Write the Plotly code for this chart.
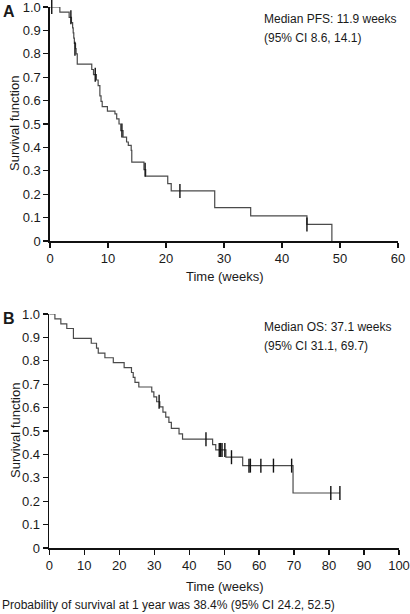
import plotly.graph_objects as go

W, H = 410, 614

# ---------------- Panel A: progression-free survival ----------------
pfs_time = [0, 1.7, 3.3, 3.7, 3.9, 4.0, 4.1, 4.2, 4.4, 4.5, 4.7, 7.2, 7.5, 8.0, 8.3,
            8.6, 8.8, 9.0, 9.9, 11.2, 11.5, 11.9, 12.2, 12.6, 13.2, 13.5, 14.0, 14.1,
            16.2, 16.5, 20.3, 20.9, 28.4, 34.6, 44.3, 48.6]
pfs_surv = [1.0, 0.978, 0.956, 0.933, 0.911, 0.889, 0.867, 0.844, 0.822, 0.80, 0.756,
            0.733, 0.711, 0.688, 0.664, 0.62, 0.597, 0.574, 0.555, 0.543, 0.522, 0.50,
            0.472, 0.444, 0.423, 0.409, 0.387, 0.337, 0.305, 0.277, 0.245, 0.214,
            0.143, 0.107, 0.071, 0.0]
pfs_cens_time = [0.3, 3.6, 4.3, 7.8, 12.4, 16.4, 22.4, 44.3]
pfs_cens_surv = [1.0, 0.956, 0.822, 0.711, 0.472, 0.305, 0.214, 0.071]

# ---------------- Panel B: overall survival ----------------
os_time = [0, 1.6, 3.3, 5.0, 6.9, 12.0, 13.5, 14.0, 15.9, 18.3, 21.4, 23.5, 24.0, 24.5,
           25.6, 29.3, 29.9, 30.7, 31.6, 32.5, 33.3, 34.2, 34.9, 37.1, 38.1, 46.7, 47.6,
           50.5, 55.3, 69.7, 83.1]
os_surv = [1.0, 0.979, 0.958, 0.938, 0.896, 0.875, 0.854, 0.833, 0.813, 0.792, 0.771,
           0.75, 0.729, 0.708, 0.688, 0.667, 0.646, 0.625, 0.603, 0.581, 0.559, 0.537,
           0.511, 0.488, 0.465, 0.442, 0.419, 0.388, 0.352, 0.235, 0.235]
os_cens_time = [31.4, 44.8, 48.6, 49.0, 49.4, 50.2, 52.1, 57.1, 57.5, 60.5, 64.1, 69.3,
                80.5, 83.1]
os_cens_surv = [0.625, 0.465, 0.419, 0.419, 0.419, 0.419, 0.388, 0.352, 0.352, 0.352,
                0.352, 0.352, 0.235, 0.235]

y_ticks = [0, 0.1, 0.2, 0.3, 0.4, 0.5, 0.6, 0.7, 0.8, 0.9, 1.0]
y_ticktext = ["0", "0.1", "0.2", "0.3", "0.4", "0.5", "0.6", "0.7", "0.8", "0.9", "1.0"]
xa_ticks = [0, 10, 20, 30, 40, 50, 60]
xb_ticks = [0, 10, 20, 30, 40, 50, 60, 70, 80, 90, 100]


def px(x):
    return x / W


def py(y):
    return 1 - y / H


FONT = "Liberation Sans, Arial, sans-serif"
TXT = "#1a1a1a"
CURVE = "#4a4a4a"

fig = go.Figure()

fig.add_trace(go.Scatter(x=pfs_time, y=pfs_surv, mode="lines",
                         line=dict(shape="hv", color=CURVE, width=1.2),
                         xaxis="x", yaxis="y", cliponaxis=False, showlegend=False))
fig.add_trace(go.Scatter(x=pfs_cens_time, y=pfs_cens_surv, mode="markers",
                         marker=dict(symbol="line-ns", size=10,
                                     line=dict(color="#111", width=1.4)),
                         xaxis="x", yaxis="y", cliponaxis=False, showlegend=False))
fig.add_trace(go.Scatter(x=os_time, y=os_surv, mode="lines",
                         line=dict(shape="hv", color=CURVE, width=1.2),
                         xaxis="x2", yaxis="y2", cliponaxis=False, showlegend=False))
fig.add_trace(go.Scatter(x=os_cens_time, y=os_cens_surv, mode="markers",
                         marker=dict(symbol="line-ns", size=10,
                                     line=dict(color="#111", width=1.4)),
                         xaxis="x2", yaxis="y2", cliponaxis=False, showlegend=False))

axis_common = dict(showline=True, linecolor="#111", linewidth=1.6, ticks="outside",
                   ticklen=5, tickwidth=1.3, tickcolor="#111", showgrid=False,
                   zeroline=False, tickfont=dict(family=FONT, size=13, color=TXT),
                   fixedrange=True, automargin=False, ticklabeloverflow="allow")

fig.update_layout(
    width=W, height=H, autosize=False,
    margin=dict(l=0, r=0, t=0, b=0, pad=0),
    paper_bgcolor="white", plot_bgcolor="white",
    font=dict(family=FONT, size=12, color=TXT),
    hovermode=False,
    xaxis=dict(domain=[px(50), px(398)], range=[0, 60], tickvals=xa_ticks,
               anchor="y", **axis_common),
    yaxis=dict(domain=[py(241), py(7)], range=[0, 1], tickvals=y_ticks,
               ticktext=y_ticktext, anchor="x", **axis_common),
    xaxis2=dict(domain=[px(49.3), px(399)], range=[0, 100], tickvals=xb_ticks,
                anchor="y2", **axis_common),
    yaxis2=dict(domain=[py(548), py(314)], range=[0, 1], tickvals=y_ticks,
                ticktext=y_ticktext, anchor="x2", **axis_common),
)

ann = []


def add_text(text, x, y, xanchor="left", yanchor="middle", size=12, angle=0, bold=False):
    ann.append(dict(text=("<b>%s</b>" % text) if bold else text,
                    x=px(x), y=py(y), xref="paper", yref="paper",
                    xanchor=xanchor, yanchor=yanchor, showarrow=False,
                    textangle=angle, font=dict(family=FONT, size=size, color=TXT)))


add_text("A", 1, 11, size=16, bold=True)
add_text("B", 1, 318, size=16, bold=True)
add_text("Survival function", 15, 124, xanchor="center", angle=-90, size=13)
add_text("Survival function", 15, 431, xanchor="center", angle=-90, size=13)
add_text("Time (weeks)", 225, 276, xanchor="center", size=13)
add_text("Time (weeks)", 225, 586, xanchor="center", size=13)
add_text("Median PFS: 11.9 weeks", 262, 19)
add_text("(95% CI 8.6, 14.1)", 262, 38)
add_text("Median OS: 37.1 weeks", 262, 327)
add_text("(95% CI 31.1, 69.7)", 262, 346)
add_text("Probability of survival at 1 year was 38.4% (95% CI 24.2, 52.5)", 0, 605)

fig.update_layout(annotations=ann)

fig.write_html(
    "out.html",
    config={"displayModeBar": False, "staticPlot": True},
    post_script="document.body.style.margin='0';document.body.style.padding='0';"
                "document.body.style.overflow='hidden';",
)
